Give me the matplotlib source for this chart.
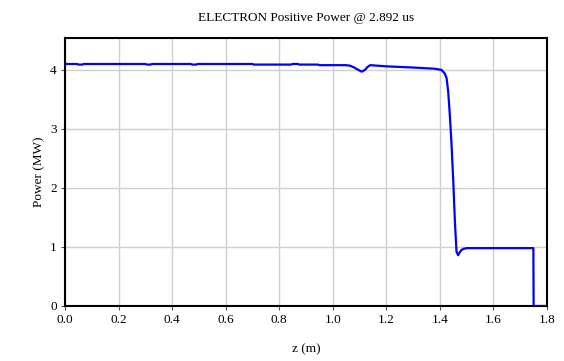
import matplotlib
matplotlib.use("Agg")
import matplotlib.pyplot as plt

# Positive power along the electron beam path
z_m = [0.000, 0.045, 0.050, 0.065, 0.070, 0.300, 0.305, 0.320, 0.325,
       0.470, 0.475, 0.490, 0.495, 0.700, 0.705, 0.845, 0.850, 0.870, 0.875,
       0.945, 0.950, 1.050, 1.065, 1.080, 1.095, 1.108, 1.120, 1.130, 1.140,
       1.200, 1.300, 1.380, 1.406, 1.418, 1.425, 1.431, 1.437, 1.443, 1.450,
       1.456, 1.462, 1.468, 1.474, 1.481, 1.490, 1.500, 1.520, 1.600, 1.700,
       1.749, 1.750, 1.800]
power_mw = [4.10, 4.10, 4.09, 4.09, 4.10, 4.10, 4.09, 4.09, 4.10,
            4.10, 4.09, 4.09, 4.10, 4.10, 4.09, 4.09, 4.10, 4.10, 4.09,
            4.09, 4.08, 4.08, 4.07, 4.04, 4.00, 3.97, 4.00, 4.05, 4.08,
            4.06, 4.04, 4.02, 4.00, 3.94, 3.86, 3.63, 3.24, 2.78, 2.11,
            1.43, 0.92, 0.86, 0.91, 0.95, 0.97, 0.98, 0.98, 0.98, 0.98,
            0.98, 0.00, 0.00]

x_ticks = [0.0, 0.2, 0.4, 0.6, 0.8, 1.0, 1.2, 1.4, 1.6, 1.8]
x_tick_labels = ["0.0", "0.2", "0.4", "0.6", "0.8", "1.0", "1.2", "1.4", "1.6", "1.8"]
y_ticks = [0, 1, 2, 3, 4]
y_tick_labels = ["0", "1", "2", "3", "4"]

plt.rcParams["font.family"] = ["Liberation Serif", "DejaVu Serif"]

fig = plt.figure(figsize=(5.64, 3.61), dpi=100)
ax = fig.add_axes([0.1152, 0.1524, 0.8547, 0.7423])

ax.plot(z_m, power_mw, color="#0000ff", linewidth=1.6, zorder=3)

ax.set_xlim(0.0, 1.8)
ax.set_ylim(0.0, 4.54)
ax.set_xticks(x_ticks)
ax.set_xticklabels(x_tick_labels)
ax.set_yticks(y_ticks)
ax.set_yticklabels(y_tick_labels)

ax.grid(True, color="#cfcfcf", linewidth=1.0, zorder=0)
for side in ax.spines.values():
    side.set_color("black")
    side.set_linewidth(1.5)

ax.tick_params(axis="both", which="major", labelsize=9.5, length=3,
               width=0.8, color="#555555", pad=3)

ax.set_title("ELECTRON Positive Power @ 2.892 us", fontsize=9.5, pad=12)
ax.set_xlabel("z (m)", fontsize=9.5, labelpad=12)
ax.set_ylabel("Power (MW)", fontsize=9.5, labelpad=3)

fig.savefig("out.png", dpi=100)
